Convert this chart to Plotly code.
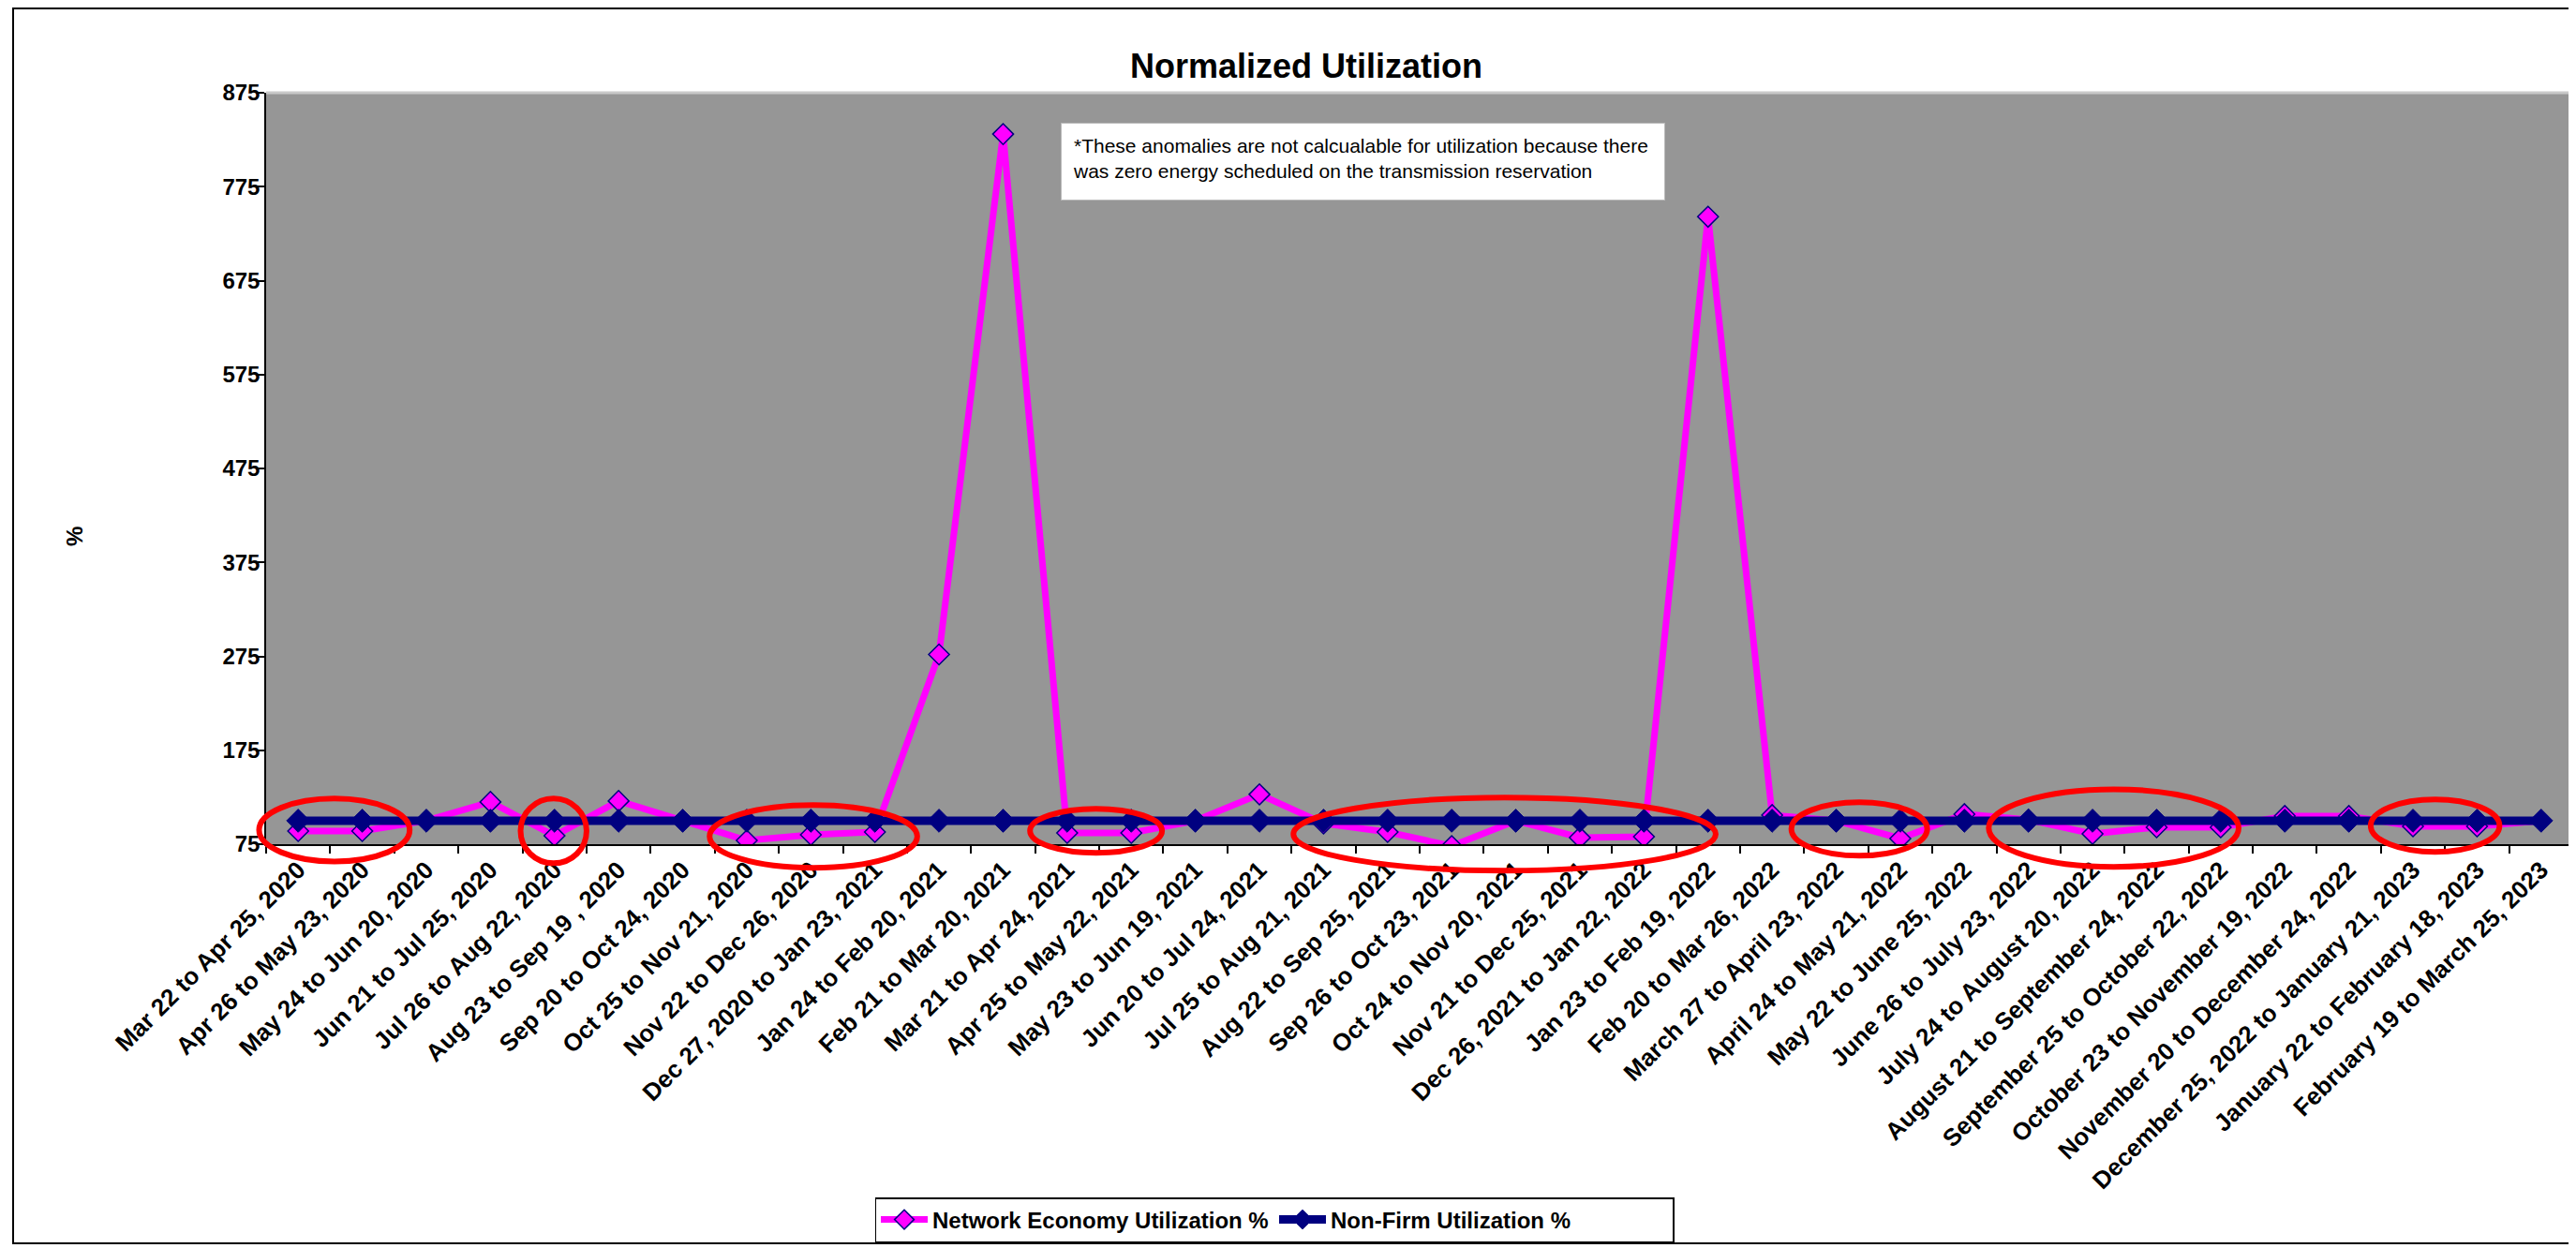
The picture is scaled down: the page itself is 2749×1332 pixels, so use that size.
import plotly.graph_objects as go

categories = [
    "Mar 22 to Apr 25, 2020", "Apr 26 to May 23, 2020", "May 24 to Jun 20, 2020",
    "Jun 21 to Jul 25, 2020", "Jul 26 to Aug 22, 2020", "Aug 23 to Sep 19 , 2020",
    "Sep 20 to Oct 24, 2020", "Oct 25 to Nov 21, 2020", "Nov 22 to Dec 26, 2020",
    "Dec 27, 2020 to Jan 23, 2021", "Jan 24 to Feb 20, 2021", "Feb 21 to Mar 20, 2021",
    "Mar 21 to Apr 24, 2021", "Apr 25 to May 22, 2021", "May 23 to Jun 19, 2021",
    "Jun 20 to Jul 24, 2021", "Jul 25 to Aug 21, 2021", "Aug 22 to Sep 25, 2021",
    "Sep 26 to Oct 23, 2021", "Oct 24 to Nov 20, 2021", "Nov 21 to Dec 25, 2021",
    "Dec 26, 2021 to Jan 22, 2022", "Jan 23 to Feb 19, 2022", "Feb 20 to Mar 26, 2022",
    "March 27 to April 23, 2022", "April 24 to May 21, 2022", "May 22 to June 25, 2022",
    "June 26 to July 23, 2022", "July 24 to August 20, 2022", "August 21 to September 24, 2022",
    "September 25 to October 22, 2022", "October 23 to November 19, 2022",
    "November 20 to December 24, 2022", "December 25, 2022 to January 21, 2023",
    "January 22 to February 18, 2023", "February 19 to March 25, 2023",
]

network_economy = [89, 89, 100, 120, 84, 121, 100, 79, 85, 88, 277, 831,
                   87, 87, 100, 128, 97, 88, 73, 100, 82, 83, 743, 106,
                   100, 81, 107, 101, 86, 93, 93, 105, 105, 94, 94, 100]

non_firm = [100, 100, 100, 100, 100, 100, 100, 100, 100, 100, 100, 100,
            100, 100, 100, 100, 100, 100, 100, 100, 100, 100, 100, 100,
            100, 100, 100, 100, 100, 100, 100, 100, 100, 100, 100, 100]

y_ticks = [75, 175, 275, 375, 475, 575, 675, 775, 875]

note_text = ("*These anomalies are not calcualable for utilization because there<br>"
             "was zero energy scheduled on the transmission reservation")

# red highlight ellipses: (category index from, to, value low, high)
highlight_ellipses = [
    (-0.61, 1.74, 56.6, 123.6),
    (3.47, 4.50, 54.7, 123.6),
    (6.42, 9.66, 49.8, 116.6),
    (11.42, 13.48, 65.8, 112.6),
    (15.53, 22.12, 46.8, 124.6),
    (23.30, 25.42, 62.7, 119.6),
    (26.38, 30.28, 50.8, 133.4),
    (32.34, 34.35, 66.8, 122.6),
]

FONT = "Liberation Sans, Arial, sans-serif"
WIN_W, WIN_H = 2749, 1332
OFF = 8                      # default page body margin
W, H = WIN_W - OFF, WIN_H - OFF
ML, MR, MT, MB = 276, 3, 91, 431
YMIN, YMAX = 75, 875
n = len(categories)

# plot box in window pixels
PL, PR = OFF + ML, OFF + W - MR
PT, PB = OFF + MT, OFF + H - MB


def wx(x):   # window px -> paper x
    return (x - PL) / (PR - PL)


def wy(y):   # window px -> paper y
    return (PB - y) / (PB - PT)


def px(i):
    return (i + 0.5) / n


def py(v):
    return (v - YMIN) / (YMAX - YMIN)


fig = go.Figure()
fig.add_trace(go.Scatter(
    x=categories, y=network_economy, mode="lines+markers",
    name="Network Economy Utilization %",
    line=dict(color="#FF00FF", width=7),
    marker=dict(symbol="diamond", size=17, color="#FF00FF",
                line=dict(color="#000080", width=1.5)),
))
fig.add_trace(go.Scatter(
    x=categories, y=non_firm, mode="lines+markers",
    name="Non-Firm Utilization %",
    line=dict(color="#000080", width=9),
    marker=dict(symbol="diamond", size=19, color="#000080",
                line=dict(color="#000080", width=1)),
))

shapes = []
for (i0, i1, v0, v1) in highlight_ellipses:
    shapes.append(dict(type="circle", xref="paper", yref="paper",
                       x0=px(i0), x1=px(i1), y0=py(v0), y1=py(v1),
                       line=dict(color="#FF0000", width=6), layer="above"))
# top light edge of plot area
shapes.append(dict(type="line", xref="paper", yref="paper", x0=0, x1=1, y0=1, y1=1,
                   line=dict(color="#C8C8C8", width=3)))
# outer chart border
shapes.append(dict(type="rect", xref="paper", yref="paper",
                   x0=wx(14), x1=wx(WIN_W + 20), y0=wy(1327), y1=wy(9),
                   line=dict(color="black", width=2), fillcolor="rgba(0,0,0,0)",
                   layer="below"))

annotations = [
    dict(text=note_text, xref="paper", yref="paper",
         x=wx(1132), y=wy(131),
         xanchor="left", yanchor="top", align="left", valign="top",
         showarrow=False, bgcolor="white", bordercolor="#BBBBBB", borderwidth=1,
         borderpad=12, width=619, height=57,
         font=dict(family=FONT, size=21, color="black")),
    dict(text="%", xref="paper", yref="paper",
         x=wx(79), y=wy(573),
         xanchor="center", yanchor="middle", textangle=-90, showarrow=False,
         font=dict(family=FONT, size=24, color="black", weight="bold")),
]

fig.update_layout(
    width=W, height=H,
    margin=dict(l=ML, r=MR, t=MT, b=MB, pad=0),
    paper_bgcolor="white", plot_bgcolor="#969696",
    title=dict(text="Normalized Utilization", xref="container", yref="container",
               x=(1394 - OFF) / W, y=1 - (70 - OFF) / H, xanchor="center", yanchor="middle",
               font=dict(family=FONT, size=36, color="black", weight="bold")),
    showlegend=True,
    legend=dict(orientation="h", xref="paper", yref="paper",
                x=wx(1360), y=wy(1278),
                xanchor="center", yanchor="top",
                bgcolor="white", bordercolor="black", borderwidth=1.5,
                font=dict(family=FONT, size=24, color="black", weight="bold"),
                itemwidth=50, entrywidth=360, entrywidthmode="pixels"),
    shapes=shapes, annotations=annotations,
    font=dict(family=FONT, color="black"),
)
fig.update_xaxes(
    type="category", range=[-0.5, n - 0.5], automargin=False,
    showgrid=False, zeroline=False, showline=True, linecolor="black", linewidth=2,
    ticks="outside", tickson="boundaries", ticklen=8, tickcolor="black", tickwidth=1.5,
    tickangle=-45, tickfont=dict(family=FONT, size=26, color="black", weight="bold"),
)
fig.update_yaxes(
    range=[YMIN, YMAX], tickmode="array", tickvals=y_ticks, ticktext=[str(t) for t in y_ticks],
    automargin=False, showgrid=False, zeroline=False,
    showline=True, linecolor="black", linewidth=1.5,
    ticks="outside", ticklen=8, tickcolor="black", tickwidth=1.5, ticklabelstandoff=-8,
    tickfont=dict(family=FONT, size=24, color="black", weight="bold"),
)

fig.write_html("out.html")
